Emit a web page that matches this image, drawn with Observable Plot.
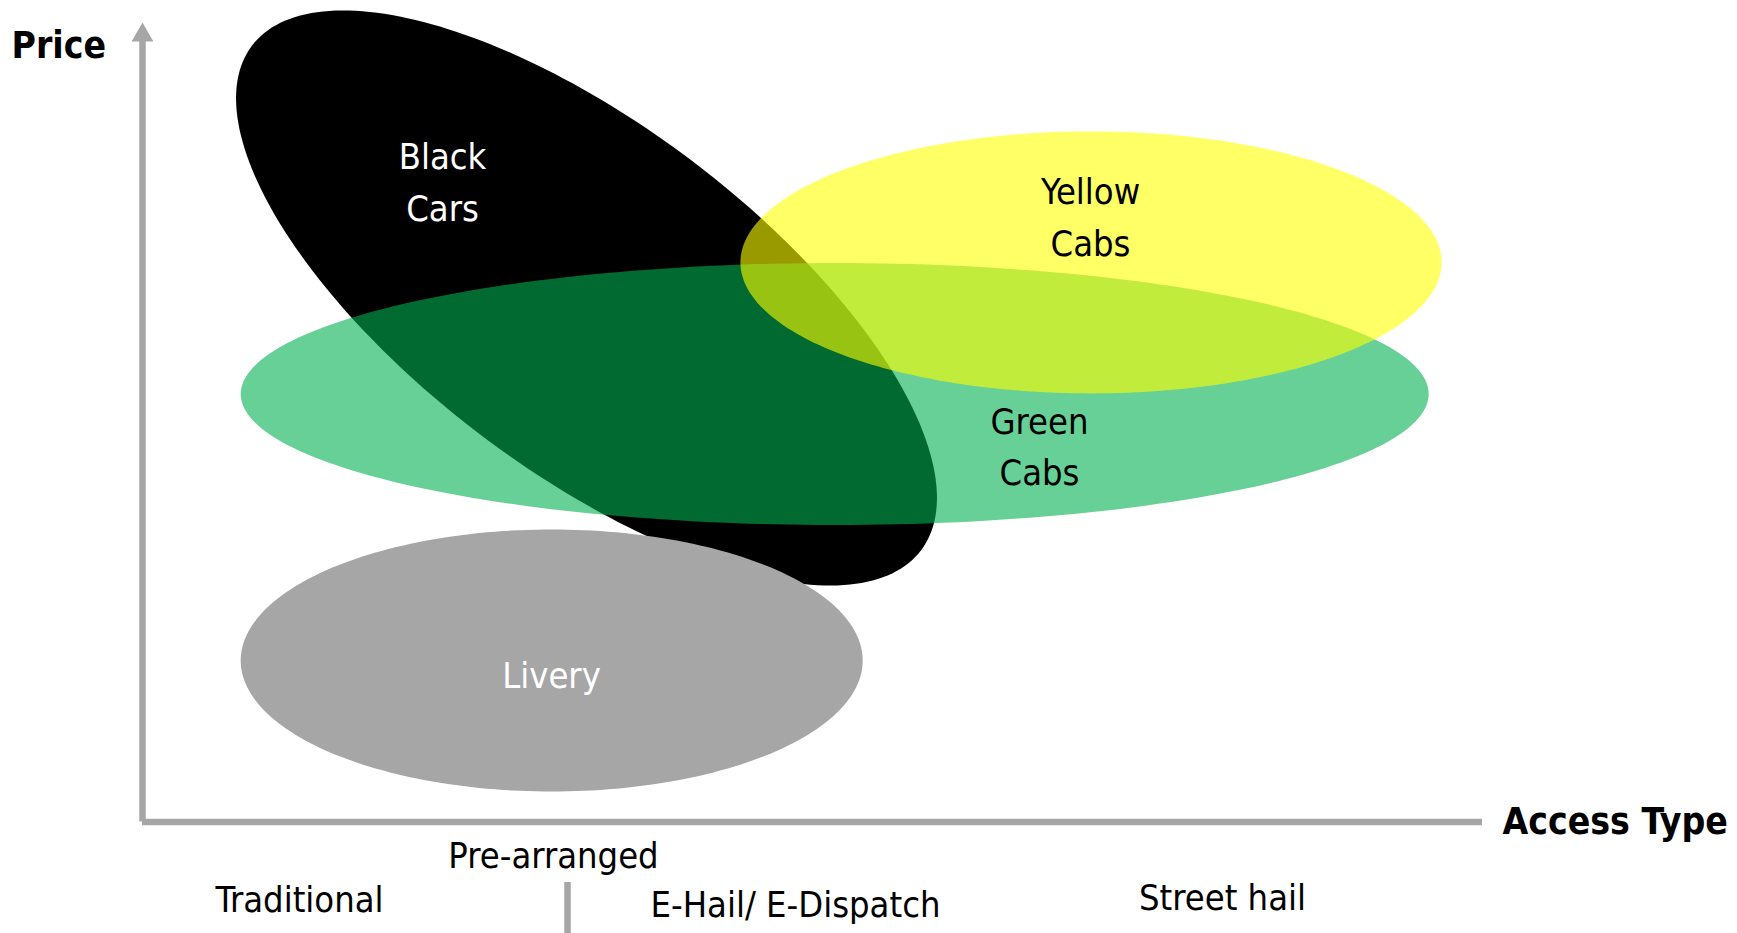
<!DOCTYPE html>
<html>
<head>
<meta charset="utf-8">
<script src="https://cdn.jsdelivr.net/npm/d3@7"></script>
<script src="https://cdn.jsdelivr.net/npm/@observablehq/plot@0.6"></script>
<style>
  html, body { margin: 0; padding: 0; background: #ffffff; overflow: hidden; }
  #chart svg { display: block; }
</style>
</head>
<body>
<div id="chart"></div>
<script>
// ---- Data (conceptual units: Access Type on x, Price on y) ----
const segments = ["Black Cars", "Livery", "Green Cabs", "Yellow Cabs"];
const centerX  = [44.4, 40.92, 69.22, 94.85];
const centerY  = [52.4, 16.15, 42.8, 55.96];
const radiusX  = [41.9, 31.1, 59.4, 35.06];
const radiusY  = [17.3, 13.1, 13.1, 13.1];
const tiltDeg  = [-37, 0, 0, 0];

const labelText = ["Black\nCars", "Yellow\nCabs", "Green\nCabs", "Livery"];
const labelX    = [30.0, 94.8, 89.7, 40.9];
const labelY    = [60.15, 56.65, 33.7, 13.4];

const accessTypes = ["Traditional", "Pre-arranged", "E-Hail/ E-Dispatch", "Street hail"];
const accessX     = [15.7, 41.1, 65.3, 108.0];
const accessY     = [-8.95, -4.55, -9.45, -8.75];

const dividerX = [42.5];
const dividerY = [-6.05, -12];

const xAxisEnd = 134;
const yAxisEnd = 78.05;
const yArrowAt = 78.68;

const axisTitles = ["Price", "Access Type"];
const axisTitleX = [-13.1, 136.0];
const axisTitleY = [76.45, -1.15];

// ---- Styles ----
const fillColors = {"Black Cars": "#000000", "Livery": "#A6A6A6", "Green Cabs": "#00B050", "Yellow Cabs": "#FFFF00"};
const fillAlpha  = {"Black Cars": 1, "Livery": 1, "Green Cabs": 0.6, "Yellow Cabs": 0.6};
const labelColors = ["#ffffff", "#000000", "#000000", "#ffffff"];
const FONT = "'DejaVu Sans Condensed', 'DejaVu Sans', sans-serif";
const AXIS_GRAY = "#A6A6A6";

// Build ellipse outlines from centre / radii / tilt
function outline(i) {
  const n = 240, phi = tiltDeg[i] * Math.PI / 180;
  return d3.range(n).map(k => {
    const t = 2 * Math.PI * k / n;
    const ex = radiusX[i] * Math.cos(t), ey = radiusY[i] * Math.sin(t);
    return {
      segment: segments[i],
      x: centerX[i] + ex * Math.cos(phi) - ey * Math.sin(phi),
      y: centerY[i] + ex * Math.sin(phi) + ey * Math.cos(phi)
    };
  });
}

const ellipseMarks = segments.map((s, i) =>
  Plot.line(outline(i), {
    x: "x", y: "y", curve: "linear-closed",
    fill: fillColors[s], fillOpacity: fillAlpha[s], stroke: "none"
  })
);

const labels = labelText.map((t, i) => ({t, x: labelX[i], y: labelY[i], c: labelColors[i]}));
const access = accessTypes.map((t, i) => ({t, x: accessX[i], y: accessY[i]}));
const titles = axisTitles.map((t, i) => ({t, x: axisTitleX[i], y: axisTitleY[i]}));

const chart = Plot.plot({
  width: 1737,
  height: 933,
  margin: 0,
  style: {fontFamily: FONT, background: "#ffffff", overflow: "visible"},
  x: {domain: [0, 134], range: [142, 1482], axis: null},
  y: {domain: [0, 79.75], range: [821.5, 24], axis: null},
  marks: [
    ...ellipseMarks,
    // axes
    Plot.ruleY([0], {x1: 0, x2: xAxisEnd, stroke: AXIS_GRAY, strokeWidth: 6.5}),
    Plot.ruleX([0], {y1: 0, y2: yAxisEnd, stroke: AXIS_GRAY, strokeWidth: 6.5}),
    Plot.dot([{x: 0, y: yArrowAt}], {x: "x", y: "y", symbol: "triangle", r: 8.1, fill: AXIS_GRAY, stroke: "none"}),
    // divider under the axis
    Plot.ruleX(dividerX, {y1: dividerY[0], y2: dividerY[1], stroke: AXIS_GRAY, strokeWidth: 6.5}),
    // segment labels
    Plot.text(labels, {x: "x", y: "y", text: "t", fill: d => d.c, fontSize: 36, lineHeight: 1.42,
      textAnchor: "middle", lineAnchor: "bottom", fontFamily: FONT}),
    // access type labels
    Plot.text(access, {x: "x", y: "y", text: "t", fill: "#000000", fontSize: 36,
      textAnchor: "middle", lineAnchor: "bottom", fontFamily: FONT}),
    // axis titles
    Plot.text(titles, {x: "x", y: "y", text: "t", fill: "#000000", fontSize: 37, fontWeight: "bold",
      textAnchor: "start", lineAnchor: "bottom", fontFamily: FONT})
  ]
});

document.getElementById("chart").appendChild(chart);
</script>
</body>
</html>
